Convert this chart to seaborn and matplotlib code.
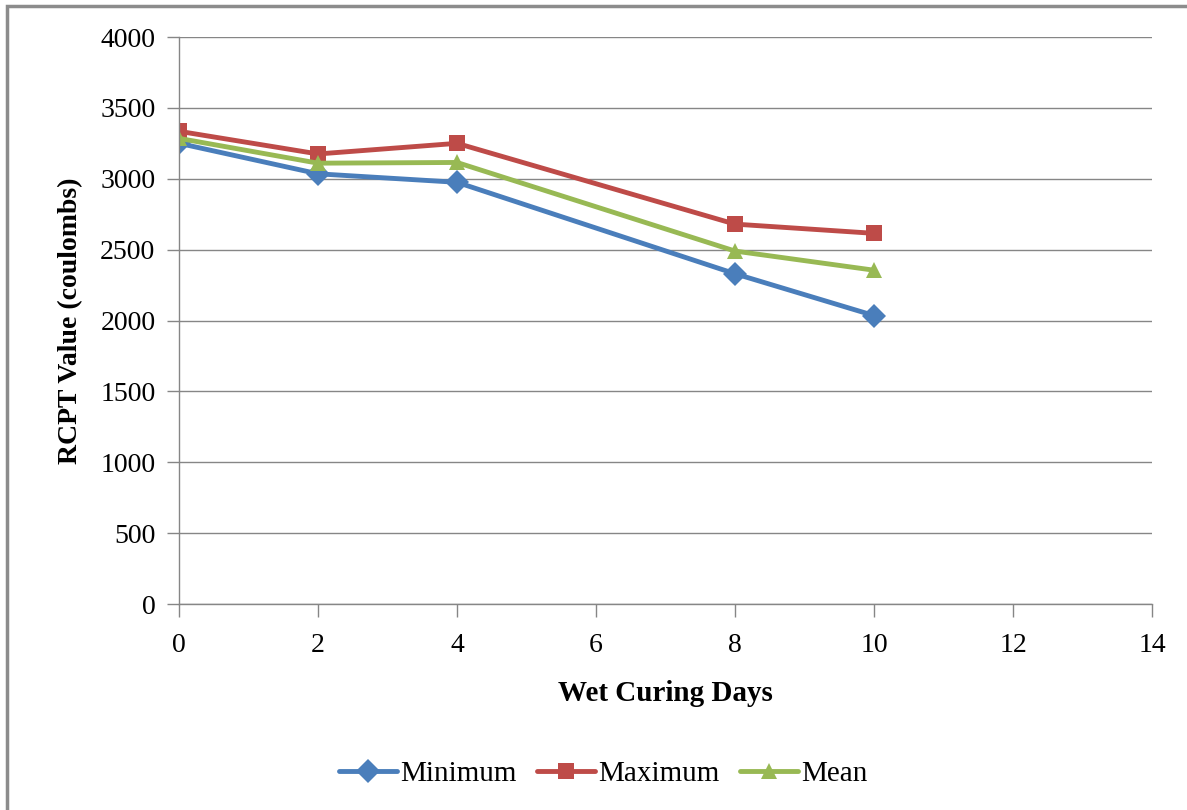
import pandas as pd
import matplotlib.pyplot as plt
from matplotlib.patches import Rectangle
import seaborn as sns

days = [0, 2, 4, 8, 10]
minimum = [3250, 3035, 2975, 2330, 2035]
maximum = [3335, 3175, 3250, 2680, 2615]
mean = [3285, 3110, 3115, 2490, 2355]
series_names = ['Minimum', 'Maximum', 'Mean']

blue = '#4a7ebb'
red = '#be4b48'
green = '#98b954'

df = pd.DataFrame({
    'day': days * 3,
    'value': minimum + maximum + mean,
    'series': [s for s in series_names for _ in days],
})

sns.set_style('white')
plt.rcParams['font.family'] = ['Liberation Serif', 'DejaVu Serif']
plt.rcParams['text.color'] = 'black'

fig = plt.figure(figsize=(11.87, 8.10), dpi=100)
ax = fig.add_axes([0.1508, 0.2543, 0.8197, 0.7000])

sns.lineplot(
    data=df, x='day', y='value', hue='series', style='series',
    hue_order=series_names, style_order=series_names,
    palette=[blue, red, green],
    markers={'Minimum': 'D', 'Maximum': 's', 'Mean': '^'},
    dashes=False, linewidth=3.5, markersize=12, markeredgewidth=0,
    ax=ax,
)

ax.set_xlim(0, 14)
ax.set_ylim(0, 4000)
ax.set_xticks(range(0, 15, 2))
ax.set_yticks(range(0, 4001, 500))
ax.yaxis.grid(True, color='#868686', linewidth=1)
ax.xaxis.grid(False)
for side in ['top', 'right']:
    ax.spines[side].set_visible(False)
for side in ['left', 'bottom']:
    ax.spines[side].set_color('#868686')
    ax.spines[side].set_linewidth(1)
ax.tick_params(axis='both', which='both', direction='out', length=9, width=1,
               bottom=True, left=True,
               color='#868686', labelsize=20, labelcolor='black')
ax.tick_params(axis='x', pad=12)
ax.tick_params(axis='y', pad=8)

ax.set_xlabel('Wet Curing Days', fontsize=21, fontweight='bold', labelpad=16,
              color='black')
ax.set_ylabel('RCPT Value (coulombs)', fontsize=20, fontweight='bold', labelpad=12,
              color='black')

sns.move_legend(
    ax, 'center', bbox_to_anchor=(0.508, 0.045), bbox_transform=fig.transFigure,
    ncol=3, frameon=False, title=None, fontsize=21,
    handlelength=2.0, handletextpad=0.1, columnspacing=0.7,
)

# outer chart frame (cropped at right and bottom)
fig.patches.append(Rectangle((7 / 1187, -0.05), 1.2, 1 - 6 / 810 + 0.05,
                             transform=fig.transFigure, fill=False,
                             edgecolor='#8c8c8c', linewidth=2.5))

fig.savefig('out.png', dpi=100)
